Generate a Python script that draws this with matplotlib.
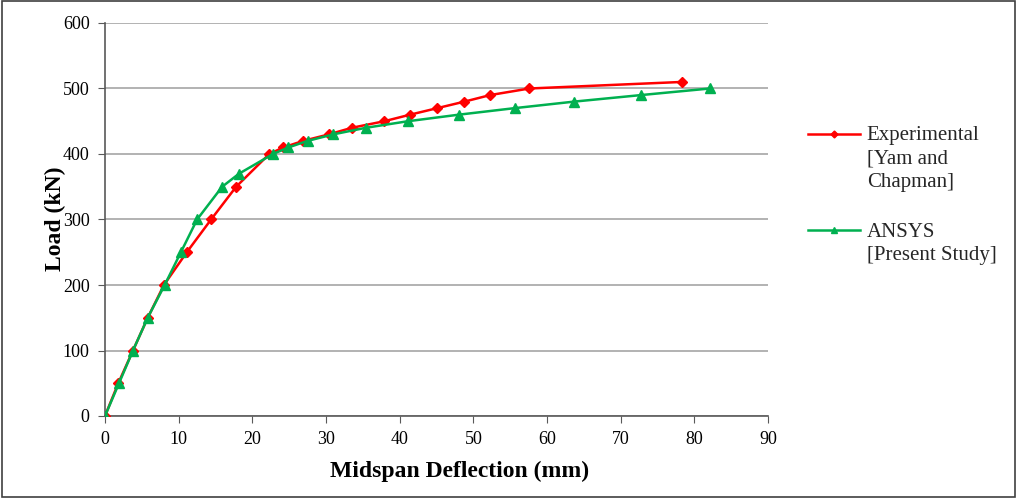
import matplotlib
matplotlib.use('Agg')
import matplotlib.pyplot as plt
from matplotlib.patches import Rectangle

plt.rcParams['font.family'] = ['Liberation Serif', 'DejaVu Serif']

# Experimental [Yam and Chapman]
exp_x = [0, 1.8, 3.8, 5.8, 8.0, 11.1, 14.4, 17.8, 22.3, 24.2, 26.9, 30.4, 33.5, 37.9,
         41.4, 45.1, 48.8, 52.3, 57.6, 78.3]
exp_y = [0, 50, 100, 150, 200, 250, 300, 350, 400, 410, 420, 430, 440, 450,
         460, 470, 480, 490, 500, 510]

# ANSYS [Present Study]
ans_x = [0, 1.9, 3.8, 5.8, 8.1, 10.3, 12.5, 15.9, 18.2, 22.8, 24.9, 27.5, 31.0, 35.4,
         41.1, 48.0, 55.6, 63.7, 72.8, 82.1]
ans_y = [0, 50, 100, 150, 200, 250, 300, 350, 370, 400, 410, 420, 430, 440,
         450, 460, 470, 480, 490, 500]

xticks = list(range(0, 91, 10))
yticks = list(range(0, 601, 100))

fig = plt.figure(figsize=(10.18, 4.98), dpi=100)
ax = fig.add_axes([105/1018, 1-416/498, (768-105)/1018, (416-23)/498])

ax.plot(exp_x, exp_y, color='#FF0000', lw=1.8, marker='D', ms=5,
        label='Experimental\n[Yam and\nChapman]', zorder=3)
ax.plot(ans_x, ans_y, color='#00B050', lw=1.8, marker='^', ms=7,
        label='ANSYS\n[Present Study]', zorder=3)

ax.set_xlim(0, 90)
ax.set_ylim(0, 600)
ax.set_xticks(xticks)
ax.set_yticks(yticks)
ax.yaxis.grid(True, color='#a6a6a6', lw=1.2)
ax.set_axisbelow(True)
for s in ['top', 'right']:
    ax.spines[s].set_visible(False)
for s in ['left', 'bottom']:
    ax.spines[s].set_color('#595959')
    ax.spines[s].set_linewidth(1.2)
ax.tick_params(axis='both', direction='out', length=5, color='#595959',
               labelsize=13, pad=6)

ax.set_xlabel('Midspan Deflection (mm)', fontsize=17, fontweight='bold')
ax.xaxis.set_label_coords(0.535, -0.115)
fig.text(55/1018, 1-219/498, 'Load (kN)', rotation=90, fontsize=17,
         fontweight='bold', ha='center', va='center')

leg = ax.legend(loc='upper left', bbox_to_anchor=(800/1018, 1-118/498),
                bbox_transform=fig.transFigure, frameon=False, fontsize=15,
                handlelength=2.5, handletextpad=0.3, labelspacing=1.5,
                markerscale=0.7, borderaxespad=0)
for t in leg.get_texts():
    t.set_linespacing(1.3)
    t.set_color('#262626')
for col in leg._legend_handle_box.get_children():
    for row in col.get_children():
        row.align = 'top'

fig.patches.append(Rectangle((0.002, 0.002), 0.995, 0.995, transform=fig.transFigure,
                             fill=False, edgecolor='#404040', lw=1.2))

fig.savefig('out.png', dpi=100)
